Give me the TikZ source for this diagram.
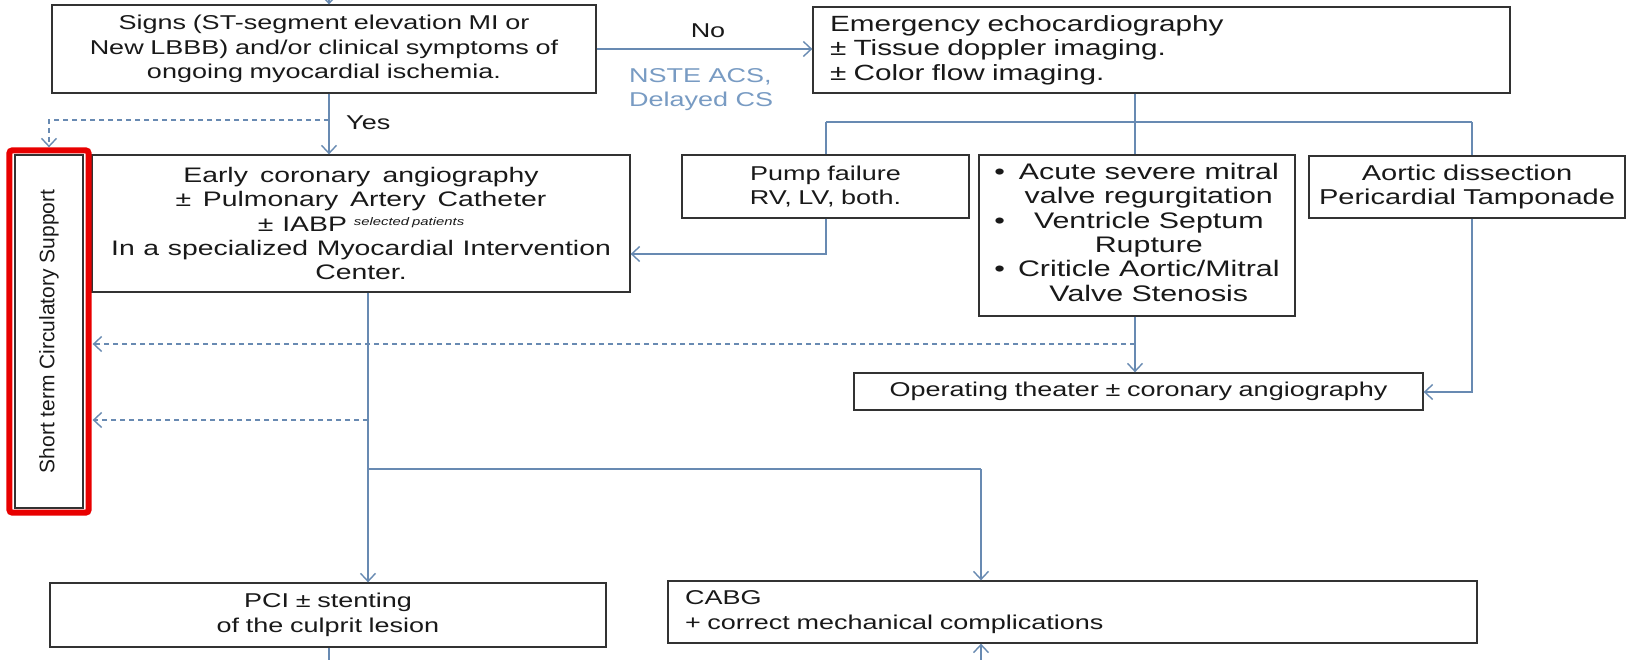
\documentclass[tikz,border=0pt]{standalone}
\usepackage{fontspec}
\setmainfont{Liberation Sans}[FakeStretch=1.35]
\newfontfamily\plainsans{Liberation Sans}
\usetikzlibrary{arrows.meta,calc}
\definecolor{lnc}{RGB}{104,138,178}
\definecolor{nste}{RGB}{120,155,195}
\definecolor{bordc}{RGB}{50,50,50}
\definecolor{txtc}{RGB}{25,25,25}
\definecolor{redf}{RGB}{232,0,0}
\begin{document}
\begin{tikzpicture}[x=1pt,y=-1pt,
  nbox/.style={draw=bordc, line width=1.3pt, fill=white, text=txtc, inner sep=0pt, align=center, font=\fontsize{20}{24.4}\selectfont},
  conn/.style={draw=lnc, line width=1.4pt},
  arr/.style={conn, -{Straight Barb[length=8pt,width=15pt,line width=1.4pt]}},
  darr/.style={arr, dash pattern=on 5pt off 4pt},
  lbl/.style={text=txtc, font=\fontsize{20}{24.4}\selectfont, inner sep=0pt}]
\useasboundingbox (0,0) rectangle (1633,660);
\fill[white] (0,0) rectangle (1633,660);

% boxes
\node[nbox, minimum width=544pt, minimum height=88pt, text width=540pt] (signs) at (324,49)
  {Signs (ST-segment elevation MI or\\ New LBBB) and/or clinical symptoms of\\ ongoing myocardial ischemia.};
\node[nbox, minimum width=697pt, minimum height=86pt, text width=663pt, inner xsep=17pt, align=left,
      font=\fontsize{22}{24.4}\selectfont] (emerg) at (1161.5,50)
  {Emergency echocardiography\\ ± Tissue doppler imaging.\\ ± Color flow imaging.};
\node[nbox, minimum width=538pt, minimum height=137pt, text width=530pt, font=\fontsize{21}{24.4}\selectfont] (early) at (361,223.5)
  {\spaceskip=8pt plus 2pt minus 1pt\relax Early coronary angiography\\ ± Pulmonary Artery Catheter\\ ±\kern9pt IABP\kern7pt\raisebox{6pt}{\fontsize{11}{11}\selectfont\spaceskip=3pt\relax\itshape selected patients}\\ In a specialized Myocardial Intervention\\ Center.};
\node[nbox, minimum width=68pt, minimum height=353pt] (short) at (49,331.5) {};
\node[rotate=90, text=txtc, inner sep=0pt, font=\plainsans\fontsize{21}{21}\selectfont] (shortlbl) at (short.center) {Short term Circulatory Support};
\draw[redf, line width=6pt, rounded corners=3pt] ($(short.north west)+(-5,-4)$) rectangle ($(short.south east)+(5,4)$);
\node[nbox, minimum width=287pt, minimum height=63pt, text width=280pt] (pump) at (825.5,186.5)
  {Pump failure\\ RV, LV, both.};
\node[nbox, minimum width=316pt, minimum height=161pt, font=\fontsize{22.5}{24.4}\selectfont] (acute) at (1137,235.5)
  {\begin{tabular}{@{}l@{\hspace{13pt}}c@{}}
   \textbullet & Acute severe mitral\\
               & valve regurgitation\\
   \textbullet & Ventricle Septum\\
               & Rupture\\
   \textbullet & Criticle Aortic/Mitral\\
               & Valve Stenosis
   \end{tabular}};
\node[nbox, minimum width=316pt, minimum height=62pt, text width=310pt, font=\fontsize{21.5}{24.4}\selectfont] (aortic) at (1467,187)
  {Aortic dissection\\ Pericardial Tamponade};
\node[nbox, minimum width=569pt, minimum height=37pt, text width=560pt] (op) at (1138.5,391.5)
  {Operating theater ± coronary angiography};
\node[nbox, minimum width=556pt, minimum height=64pt, text width=550pt] (pci) at (328,615)
  {PCI ± stenting\\ of the culprit lesion};
\node[nbox, minimum width=809pt, minimum height=62pt, text width=775pt, inner xsep=17pt, align=left] (cabg) at (1072.5,612)
  {CABG\\ + correct mechanical complications};

% labels
\node[lbl] (no) at (708,31) {No};
\node[lbl, anchor=west, align=left, text=nste] (nsteL) at (629,89.5) {NSTE ACS,\\ Delayed CS};
\node[lbl, anchor=west] (yes) at (346,123) {Yes};

% helper coordinates
\coordinate (yx) at (329,0);
\coordinate (topin) at (329,0);
\coordinate (bottomout) at (329,660);
\coordinate (d1) at (329,120);
\coordinate (bus) at (1135,122);
\coordinate (busL) at (826,122);
\coordinate (busR) at (1472,122);
\coordinate (pe) at (826,254);
\coordinate (d2) at (1135,344);
\coordinate (ao) at (1472,392);
\coordinate (ex) at (368,0);
\coordinate (d3) at (368,420);
\coordinate (hx) at (368,469);
\coordinate (cx) at (981,469);
\coordinate (cabgin) at (981,660);

% connectors
\draw[arr] (topin) -- (topin |- signs.north);
\draw[arr] (signs.east) -- (signs.east -| emerg.west);
\draw[arr] (signs.south -| yx) -- (early.north -| yx);
\draw[darr] (d1) -| ($(short.north)+(0,-7)$);
\draw[conn] (emerg.south -| bus) -- (bus);
\draw[conn] (busL) -- (busR);
\draw[conn] (busL) -- (pump.north -| busL);
\draw[conn] (bus) -- (acute.north -| bus);
\draw[conn] (busR) -- (aortic.north -| busR);
\draw[arr] (pump.south -| pe) -- (pe) -- (pe -| early.east);
\draw[arr] (acute.south -| bus) -- (op.north -| bus);
\draw[darr] (d2) -- ($(d2 -| short.east)+(9,0)$);
\draw[arr] (aortic.south -| ao) -- (ao) -- (ao -| op.east);
\draw[arr] (early.south -| ex) -- (pci.north -| ex);
\draw[darr] (d3) -- ($(d3 -| short.east)+(9,0)$);
\draw[conn] (hx) -- (cx);
\draw[arr] (cx) -- (cabg.north -| cx);
\draw[conn] (pci.south -| yx) -- (bottomout);
\draw[arr] (cabgin) -- (cabg.south -| cabgin);
\end{tikzpicture}
\end{document}
